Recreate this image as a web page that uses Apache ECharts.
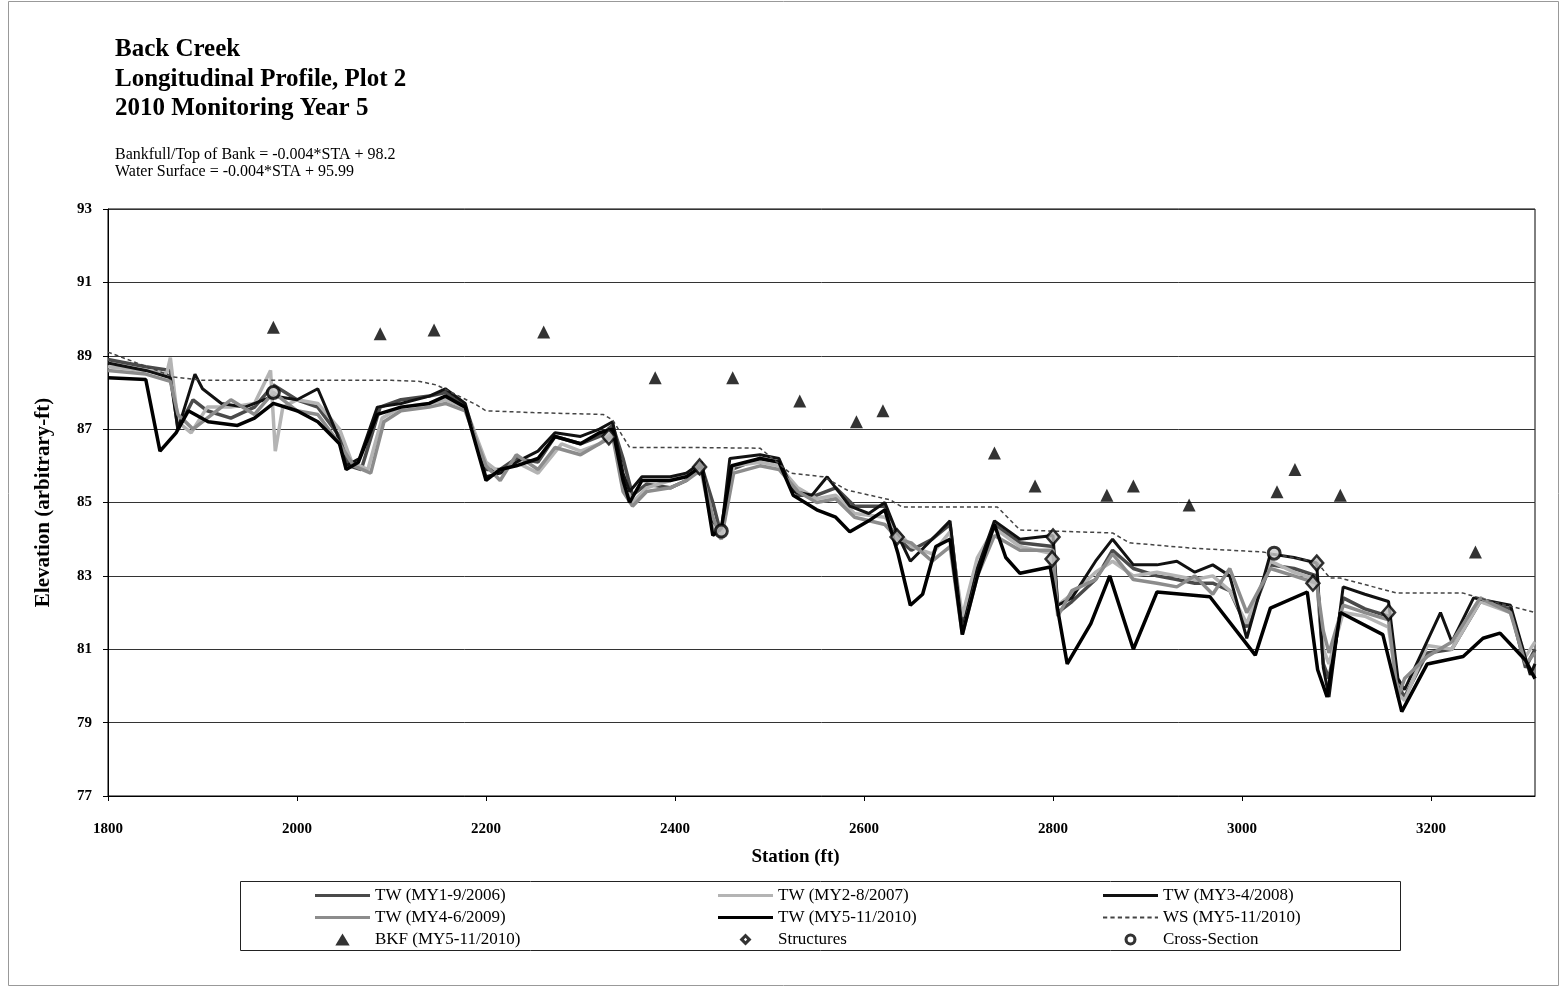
<!DOCTYPE html>
<html>
<head>
<meta charset="utf-8">
<script src="https://cdn.jsdelivr.net/npm/echarts@6/dist/echarts.min.js"></script>
<style>
  html, body { margin: 0; padding: 0; background: #ffffff; }
  #chart { width: 1560px; height: 987px; }
</style>
</head>
<body>
<div id="chart"></div>
<script>
// Longitudinal profile survey data: [station (ft), elevation (ft)]
const tw2006 = [[1800,88.9],[1840,88.7],[1866,88.6],[1874,87.0],[1890,87.8],[1905,87.5],[1930,87.3],[1955,87.6],[1975,88.2],[2000,87.8],[2022,87.6],[2045,86.8],[2055,86.0],[2068,85.9],[2088,87.6],[2110,87.8],[2140,87.9],[2157,88.0],[2178,87.6],[2200,85.9],[2215,85.9],[2232,86.2],[2255,86.1],[2273,86.8],[2300,86.6],[2320,86.8],[2334,87.1],[2345,86.2],[2355,85.2],[2370,85.5],[2395,85.4],[2412,85.6],[2428,86.0],[2440,85.0],[2449,84.1],[2460,85.9],[2490,86.2],[2510,86.1],[2530,85.2],[2550,85.2],[2570,85.4],[2590,84.9],[2622,84.9],[2636,84.0],[2650,83.7],[2672,84.0],[2691,84.4],[2704,81.6],[2720,83.2],[2738,84.4],[2765,83.9],[2800,83.8],[2805,82.0],[2820,82.3],[2845,82.9],[2863,83.7],[2885,83.2],[2910,83.0],[2931,82.9],[2950,82.8],[2969,82.8],[2987,82.6],[3005,81.6],[3030,83.3],[3055,83.2],[3079,83.0],[3086,80.6],[3092,80.2],[3107,82.4],[3130,82.1],[3155,81.9],[3165,80.0],[3172,79.7],[3196,80.9],[3222,81.0],[3252,82.3],[3284,82.1],[3300,80.5],[3310,81.0]];
const tw2007 = [[1800,88.7],[1840,88.6],[1862,88.5],[1866,88.95],[1874,87.2],[1888,86.9],[1905,87.6],[1930,87.6],[1955,87.7],[1972,88.6],[1977,86.4],[1985,87.6],[2000,87.8],[2022,87.7],[2045,87.0],[2058,86.1],[2075,85.9],[2090,87.3],[2110,87.6],[2140,87.7],[2157,87.8],[2178,87.6],[2200,86.1],[2215,85.8],[2232,86.1],[2255,85.8],[2280,86.6],[2300,86.4],[2320,86.6],[2334,86.9],[2345,85.6],[2355,85.0],[2370,85.4],[2395,85.6],[2412,85.8],[2428,85.8],[2440,84.3],[2449,84.0],[2462,86.0],[2490,86.1],[2510,86.0],[2530,85.4],[2550,85.1],[2570,85.2],[2590,84.7],[2622,84.6],[2636,84.2],[2650,83.8],[2672,83.6],[2691,84.2],[2704,81.9],[2720,83.5],[2738,84.3],[2765,83.8],[2800,83.6],[2805,82.2],[2820,82.5],[2845,83.1],[2863,83.4],[2885,83.0],[2910,83.1],[2931,83.0],[2950,82.9],[2969,83.0],[2987,82.6],[3005,81.7],[3030,83.4],[3055,83.1],[3079,82.9],[3086,81.0],[3092,80.6],[3107,82.0],[3130,81.9],[3155,81.6],[3165,79.8],[3172,79.6],[3196,81.1],[3222,81.0],[3252,82.3],[3284,82.0],[3300,80.8],[3310,81.2]];
const tw2008 = [[1800,88.8],[1840,88.6],[1866,88.4],[1874,87.0],[1892,88.5],[1900,88.1],[1920,87.7],[1945,87.6],[1975,87.9],[2000,87.8],[2022,88.1],[2042,86.9],[2052,86.0],[2066,86.2],[2085,87.6],[2110,87.7],[2140,87.9],[2157,88.1],[2178,87.7],[2200,85.7],[2215,85.8],[2232,86.1],[2255,86.4],[2273,86.9],[2300,86.8],[2320,87.0],[2334,87.2],[2345,85.8],[2352,85.3],[2365,85.7],[2395,85.7],[2412,85.8],[2428,86.1],[2440,84.5],[2449,84.2],[2458,86.2],[2490,86.3],[2510,86.2],[2525,85.3],[2545,85.2],[2561,85.7],[2585,84.9],[2605,84.7],[2622,85.0],[2636,84.1],[2649,83.4],[2672,84.0],[2691,84.5],[2704,81.5],[2720,83.2],[2738,84.5],[2765,84.0],[2800,84.1],[2805,82.2],[2820,82.4],[2845,83.4],[2863,84.0],[2885,83.3],[2910,83.3],[2931,83.4],[2950,83.1],[2969,83.3],[2987,83.0],[3005,81.3],[3030,83.6],[3055,83.5],[3079,83.35],[3086,80.5],[3092,79.7],[3107,82.7],[3130,82.5],[3155,82.3],[3165,80.2],[3172,79.9],[3210,82.0],[3222,81.2],[3245,82.4],[3284,82.2],[3305,80.3],[3310,80.6]];
const tw2009 = [[1800,88.6],[1840,88.5],[1866,88.3],[1874,87.4],[1890,87.0],[1905,87.3],[1930,87.8],[1955,87.4],[1975,88.0],[2000,87.5],[2022,87.4],[2045,86.6],[2060,86.0],[2078,85.8],[2092,87.2],[2110,87.5],[2140,87.6],[2157,87.7],[2178,87.5],[2200,86.0],[2215,85.6],[2232,86.3],[2255,85.9],[2273,86.5],[2300,86.3],[2320,86.6],[2334,86.8],[2345,85.3],[2355,84.9],[2370,85.3],[2395,85.4],[2412,85.6],[2428,85.9],[2440,84.6],[2449,84.0],[2462,85.8],[2490,86.0],[2510,85.9],[2530,85.3],[2550,85.0],[2570,85.1],[2590,84.6],[2622,84.4],[2636,84.0],[2650,83.9],[2672,83.4],[2691,83.8],[2704,81.4],[2720,83.0],[2738,84.1],[2765,83.7],[2800,83.7],[2805,81.9],[2820,82.6],[2845,82.9],[2863,83.6],[2885,82.9],[2910,82.8],[2931,82.7],[2950,83.0],[2969,82.5],[2987,83.2],[3005,82.0],[3030,83.2],[3055,83.0],[3079,82.8],[3086,81.5],[3092,80.9],[3107,82.2],[3130,82.0],[3155,81.8],[3165,79.7],[3172,80.2],[3196,80.8],[3222,81.2],[3252,82.4],[3284,82.0],[3300,80.6],[3310,80.9]];
const tw2010 = [[1800,88.4],[1840,88.35],[1855,86.4],[1872,86.9],[1885,87.5],[1906,87.2],[1937,87.1],[1955,87.3],[1975,87.7],[2000,87.5],[2022,87.2],[2045,86.6],[2052,85.9],[2065,86.1],[2085,87.4],[2110,87.6],[2140,87.7],[2157,87.9],[2178,87.6],[2200,85.6],[2215,85.9],[2232,86.0],[2255,86.2],[2273,86.8],[2300,86.6],[2320,86.9],[2334,87.0],[2345,85.6],[2352,85.0],[2365,85.6],[2395,85.6],[2412,85.7],[2428,86.0],[2440,84.1],[2449,84.3],[2460,86.0],[2490,86.2],[2510,86.1],[2525,85.2],[2550,84.8],[2570,84.6],[2585,84.2],[2605,84.5],[2622,84.8],[2636,83.6],[2649,82.2],[2662,82.5],[2676,83.8],[2691,84.0],[2704,81.4],[2720,83.0],[2738,84.4],[2750,83.5],[2765,83.07],[2797,83.24],[2815,80.6],[2840,81.7],[2860,83.0],[2885,81.0],[2910,82.56],[2966,82.43],[3014,80.84],[3030,82.12],[3069,82.56],[3080,80.44],[3090,79.7],[3104,82.0],[3149,81.4],[3169,79.3],[3196,80.6],[3234,80.8],[3255,81.3],[3273,81.44],[3300,80.7],[3310,80.2]];
const ws2010 = [[1800,89.1],[1870,88.42],[1900,88.33],[2000,88.33],[2100,88.33],[2130,88.3],[2148,88.2],[2190,87.66],[2200,87.5],[2250,87.45],[2324,87.4],[2334,87.25],[2352,86.5],[2416,86.5],[2490,86.48],[2522,85.8],[2557,85.7],[2582,85.34],[2628,85.07],[2640,84.88],[2741,84.88],[2765,84.25],[2863,84.17],[2881,83.9],[2950,83.75],[3022,83.65],[3079,83.38],[3093,82.94],[3104,82.94],[3164,82.53],[3234,82.53],[3259,82.34],[3310,82.0]];
const bkf2010 = [[1975,89.78],[2088,89.6],[2145,89.7],[2261,89.65],[2379,88.4],[2461,88.4],[2532,87.77],[2592,87.2],[2620,87.5],[2738,86.35],[2781,85.45],[2857,85.2],[2885,85.45],[2944,84.93],[3037,85.29],[3056,85.9],[3104,85.2],[3247,83.65]];
const structures = [[2330,86.79],[2426,85.97],[2635,84.06],[2800,84.06],[2799,83.46],[3079,83.35],[3075,82.8],[3155,82.0]];
const crossSections = [[1975,88.0],[2449,84.22],[3034,83.62]];

const titleLines = ['Back Creek', 'Longitudinal Profile, Plot 2', '2010 Monitoring Year 5'];
const equationLines = ['Bankfull/Top of Bank = -0.004*STA + 98.2', 'Water Surface = -0.004*STA + 95.99'];

const serif = '"Liberation Serif", "DejaVu Serif", serif';

// Legend swatches: solid and dashed strokes, plus hollow-centred marker glyphs
const iconSolid = 'path://M0,4.5 H52 V7.5 H0 Z';
const iconDashed = 'path://M0,5 H4 V7 H0 Z M7,5 H11 V7 H7 Z M14,5 H18 V7 H14 Z M21,5 H25 V7 H21 Z M28,5 H32 V7 H28 Z M35,5 H39 V7 H35 Z M42,5 H46 V7 H42 Z M49,5 H52 V7 H49 Z';
const iconTriangle = 'path://M6,0 L12,10 L0,10 Z';
const iconDiamond = 'path://M5.5,0 L11,5.5 L5.5,11 L0,5.5 Z M5.5,4 L4,5.5 L5.5,7 L7,5.5 Z';
const iconCircle = 'path://M0,5 A5,5 0 1,1 10,5 A5,5 0 1,1 0,5 Z M2.6,5 A2.4,2.4 0 1,0 7.4,5 A2.4,2.4 0 1,0 2.6,5 Z';
const markerSwatch = { color: '#000', borderWidth: 0 };

function twSeries(name, data, color, width) {
  return {
    name: name, type: 'line', data: data, showSymbol: false, symbol: 'none',
    lineStyle: { color: color, width: width }, itemStyle: { color: color },
    z: 2
  };
}

const chart = echarts.init(document.getElementById('chart'), null, { renderer: 'canvas' });

const legendText = { fontFamily: serif, fontSize: 17, color: '#000' };
function legendCol(left, items) {
  return {
    orient: 'vertical', left: left, top: 887, padding: 0, itemWidth: 55, itemHeight: 12, itemGap: 5,
    textStyle: legendText, data: items, selectedMode: false
  };
}

chart.setOption({
  backgroundColor: '#ffffff',
  animation: false,
  title: [
    { text: titleLines.join('\n'), left: 115, top: 35, padding: 0,
      textStyle: { fontFamily: serif, fontWeight: 'bold', fontSize: 25, lineHeight: 29.5, color: '#000' } },
    { text: equationLines.join('\n'), left: 115, top: 146, padding: 0,
      textStyle: { fontFamily: serif, fontWeight: 'normal', fontSize: 16, lineHeight: 17, color: '#000' } }
  ],
  grid: { left: 108, right: 25, top: 209, bottom: 191, show: true, borderColor: '#000', borderWidth: 1 },
  xAxis: {
    type: 'value', min: 1800, max: 3310, interval: 200,
    name: 'Station (ft)', nameLocation: 'middle', nameGap: 52,
    nameTextStyle: { fontFamily: serif, fontWeight: 'bold', fontSize: 19, color: '#000', padding: [0, 52, 0, 0] },
    axisLine: { lineStyle: { color: '#000', width: 1 } },
    axisTick: { show: true, length: 5, lineStyle: { color: '#000' } },
    axisLabel: { fontFamily: serif, fontWeight: 'bold', fontSize: 15, color: '#000', margin: 26, showMaxLabel: false,
      formatter: v => (v % 200 === 0 ? String(v) : '') },
    splitLine: { show: false }
  },
  yAxis: {
    type: 'value', min: 77, max: 93, interval: 2,
    name: 'Elevation (arbitrary-ft)', nameLocation: 'middle', nameGap: 54,
    nameTextStyle: { fontFamily: serif, fontWeight: 'bold', fontSize: 21, color: '#000' },
    axisLine: { show: true, lineStyle: { color: '#000', width: 1 } },
    axisTick: { show: true, length: 5, lineStyle: { color: '#000' } },
    axisLabel: { fontFamily: serif, fontWeight: 'bold', fontSize: 15, color: '#000', margin: 16 },
    splitLine: { show: true, lineStyle: { color: '#333', width: 1 } }
  },
  legend: [
    legendCol(315, [
      { name: 'TW (MY1-9/2006)', icon: iconSolid },
      { name: 'TW (MY4-6/2009)', icon: iconSolid },
      { name: 'BKF (MY5-11/2010)', icon: iconTriangle, itemStyle: markerSwatch }
    ]),
    legendCol(718, [
      { name: 'TW (MY2-8/2007)', icon: iconSolid },
      { name: 'TW (MY5-11/2010)', icon: iconSolid },
      { name: 'Structures', icon: iconDiamond, itemStyle: markerSwatch }
    ]),
    legendCol(1103, [
      { name: 'TW (MY3-4/2008)', icon: iconSolid },
      { name: 'WS (MY5-11/2010)', icon: iconDashed },
      { name: 'Cross-Section', icon: iconCircle, itemStyle: markerSwatch }
    ])
  ],
  graphic: [
    { type: 'rect', shape: { x: 240.5, y: 881.5, width: 1160, height: 69 },
      style: { fill: 'none', stroke: '#222', lineWidth: 1 }, silent: true },
    { type: 'rect', shape: { x: 8.5, y: 1.5, width: 1550, height: 984 },
      style: { fill: 'none', stroke: '#999', lineWidth: 1 }, silent: true }
  ],
  series: [
    twSeries('TW (MY1-9/2006)', tw2006, '#4a4a4a', 3.5),
    twSeries('TW (MY2-8/2007)', tw2007, '#b4b4b4', 3.5),
    twSeries('TW (MY3-4/2008)', tw2008, '#111111', 3),
    twSeries('TW (MY4-6/2009)', tw2009, '#8c8c8c', 3.5),
    twSeries('TW (MY5-11/2010)', tw2010, '#000000', 3.5),
    {
      name: 'WS (MY5-11/2010)', type: 'line', data: ws2010, showSymbol: false, symbol: 'none',
      lineStyle: { color: '#444', width: 1.5, type: [4, 3] }, itemStyle: { color: '#444' }, z: 3
    },
    {
      name: 'BKF (MY5-11/2010)', type: 'scatter', data: bkf2010, symbol: 'triangle', symbolSize: 13,
      itemStyle: { color: '#000' }, z: 5
    },
    {
      name: 'Structures', type: 'scatter', data: structures, symbol: 'diamond', symbolSize: [13, 15],
      itemStyle: { color: '#bbbbbb', borderColor: '#000', borderWidth: 2.5 }, z: 5
    },
    {
      name: 'Cross-Section', type: 'scatter', data: crossSections, symbol: 'circle', symbolSize: 12,
      itemStyle: { color: '#cccccc', borderColor: '#000', borderWidth: 3 }, z: 5
    }
  ]
});
</script>
</body>
</html>
